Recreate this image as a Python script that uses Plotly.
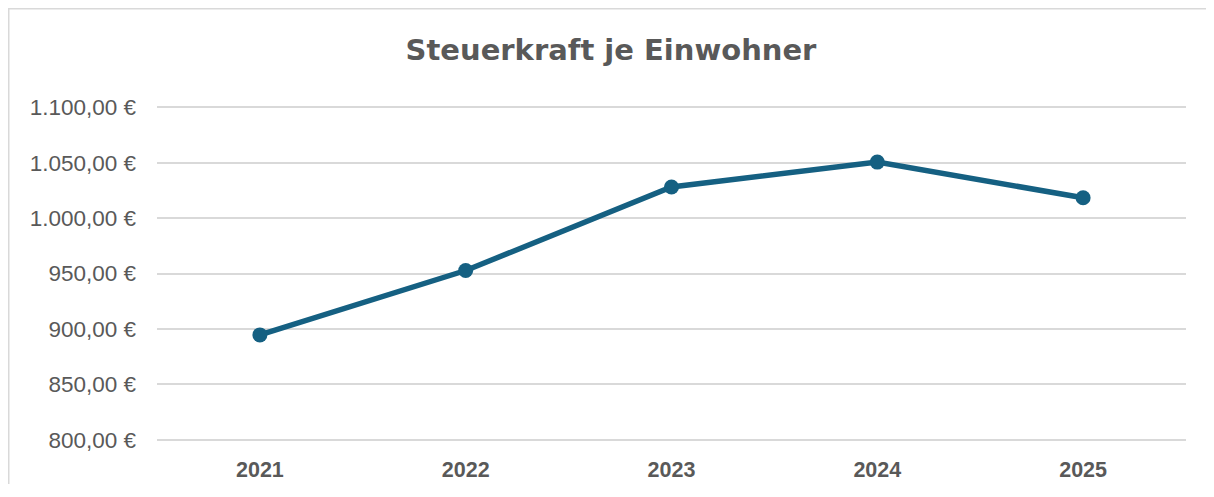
import plotly.graph_objects as go

years = ["2021", "2022", "2023", "2024", "2025"]
values = [894.6, 952.7, 1028.0, 1050.5, 1018.3]
y_ticks = [800, 850, 900, 950, 1000, 1050, 1100]
y_tick_labels = ["800,00 €", "850,00 €", "900,00 €", "950,00 €", "1.000,00 €", "1.050,00 €", "1.100,00 €"]

# page body has an 8px margin, so the figure is sized to fit inside it
W, H = 1206, 476
ml, mr, mt, mb = 149, 28, 97, 42
pw, ph = W - ml - mr, H - mt - mb

def px2x(px):
    return (px - ml) / pw

def py2y(py):
    return (H - mb - py) / ph

fig = go.Figure()
fig.add_trace(go.Scatter(
    x=years, y=values, mode="lines+markers",
    line=dict(color="#156082", width=5.5),
    marker=dict(color="#156082", size=15),
    hoverinfo="skip",
))

border_path = "M {x0},{y1} L {x0},{y0} L {x1},{y0}".format(
    x0=px2x(0.75), y0=py2y(0.75), x1=px2x(W + 20), y1=py2y(H + 20))

fig.update_layout(
    width=W, height=H,
    margin=dict(l=ml, r=mr, t=mt, b=mb, autoexpand=False),
    paper_bgcolor="white", plot_bgcolor="white",
    showlegend=False,
    font=dict(family="Liberation Sans, Arial, sans-serif", color="#595959"),
    title=dict(text="<b>Steuerkraft je Einwohner</b>", x=603 / W, xref="container", xanchor="center",
               y=1 - 42 / H, yref="container", yanchor="middle",
               font=dict(size=29, family="DejaVu Sans, sans-serif", color="#595959")),
    xaxis=dict(type="category", range=[-0.5, 4.5], showgrid=False, zeroline=False,
               showline=False, ticks="", automargin=False,
               tickfont=dict(size=21.5, color="#595959", weight="bold"),
               ticklabelstandoff=12),
    yaxis=dict(range=[798, 1102], tickvals=y_ticks, ticktext=y_tick_labels,
               showgrid=True, gridcolor="#d9d9d9", gridwidth=1.5, zeroline=False,
               showline=False, ticks="", automargin=False,
               tickfont=dict(size=22.5, color="#595959"),
               ticklabelstandoff=20),
    shapes=[
        dict(type="path", xref="paper", yref="paper", path=border_path,
             line=dict(color="#d9d9d9", width=1.5)),
    ],
)

fig.write_html("out.html")
